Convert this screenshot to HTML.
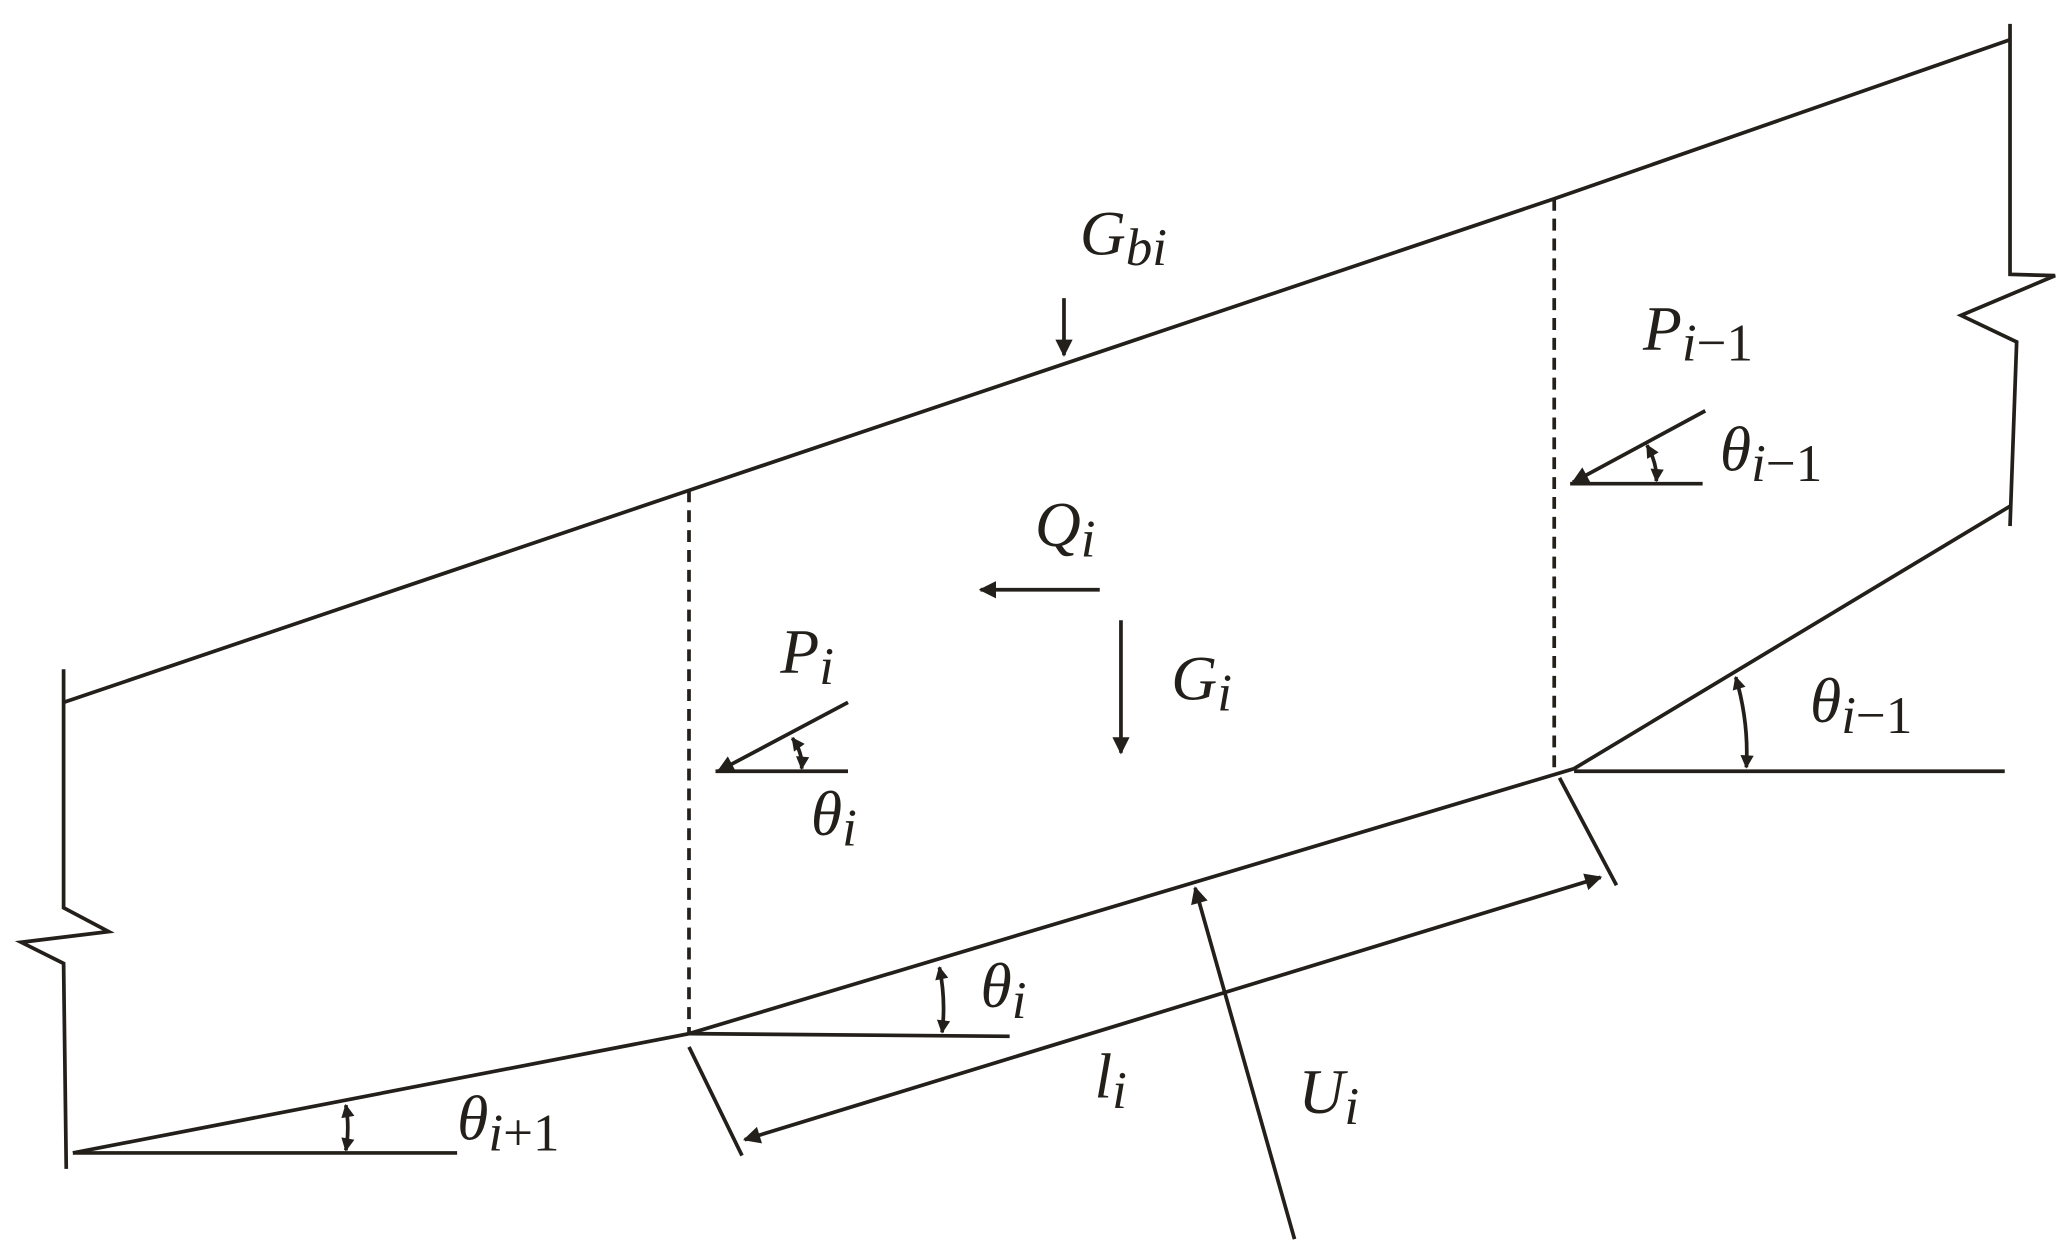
<!DOCTYPE html>
<html><head><style>html,body{margin:0;padding:0;background:#fff}svg{display:block}</style></head>
<body>
<svg width="2067" height="1251" viewBox="0 0 1560 944" preserveAspectRatio="none" xmlns="http://www.w3.org/2000/svg">
<defs>
<marker id="a" viewBox="0 0 10 10" refX="9" refY="5" markerWidth="11" markerHeight="10" orient="auto-start-reverse" markerUnits="userSpaceOnUse"><path d="M0,0 L10,5 L0,10 z" fill="#231f1a"/></marker>
<marker id="b" viewBox="0 0 10 10" refX="9" refY="5" markerWidth="20" markerHeight="13" orient="auto-start-reverse" markerUnits="userSpaceOnUse"><path d="M0,0 L10,5 L0,10 z" fill="#231f1a"/></marker>
</defs>
<g stroke="#231f1a" stroke-width="2.8" fill="none">
<path d="M48,530 L520,370 L1173,150 L1517,30"/>
<path d="M48,505 L48,685 L82,703 L16,711 L48,727 L50,882"/>
<path d="M1517,18 L1517,207 L1551,208 L1480,238 L1522,258 L1517,397"/>
<path d="M55,870 L520,780 L1188,580 L1517,382"/>
<path d="M520,370 L520,780 M1173,150 L1173,580" stroke-dasharray="9,6"/>
<path d="M55,870 L345,870 M520,780 L762,782 M1188,582 L1513,582 M540,582 L640,582 M1185,365 L1285,365"/>
<path d="M520,790 L560,872 M1177,587 L1220,668"/>
<path d="M803,225 L803,268" marker-end="url(#b)"/>
<path d="M830,445 L740,445" marker-end="url(#b)"/>
<path d="M846,468 L846,568" marker-end="url(#b)"/>
<path d="M640,530 L542,582" marker-end="url(#b)"/>
<path d="M1287,310 L1187,364" marker-end="url(#b)"/>
<path d="M562,860 L1208,662" marker-start="url(#b)" marker-end="url(#b)"/>
<path d="M977,935 L902,670" marker-end="url(#b)"/>
<path d="M598,557 Q606,568 605,580" marker-start="url(#a)" marker-end="url(#a)"/>
<path d="M1243,336 Q1251,350 1250,363" marker-start="url(#a)" marker-end="url(#a)"/>
<path d="M1310,511 Q1320,545 1318,579" marker-start="url(#a)" marker-end="url(#a)"/>
<path d="M709,730 Q714,755 711,779" marker-start="url(#a)" marker-end="url(#a)"/>
<path d="M261,834 Q264,851 261,868" marker-start="url(#a)" marker-end="url(#a)"/>
</g>
<g font-family="'Liberation Serif', serif" font-style="italic" fill="#231f1a" font-size="48">
<text x="815" y="192">G<tspan font-size="40" dy="8">bi</tspan></text>
<text x="781" y="412">Q<tspan font-size="40" dy="8">i</tspan></text>
<text x="884" y="528">G<tspan font-size="40" dy="8">i</tspan></text>
<text x="589" y="508">P<tspan font-size="40" dy="8">i</tspan></text>
<text x="612" y="630">θ<tspan font-size="40" dy="8">i</tspan></text>
<text x="1240" y="264">P<tspan font-size="40" dy="8">i<tspan font-style="normal">−1</tspan></tspan></text>
<text x="1298" y="355">θ<tspan font-size="40" dy="8">i<tspan font-style="normal">−1</tspan></tspan></text>
<text x="1366" y="545">θ<tspan font-size="40" dy="8">i<tspan font-style="normal">−1</tspan></tspan></text>
<text x="740" y="760">θ<tspan font-size="40" dy="8">i</tspan></text>
<text x="345" y="860">θ<tspan font-size="40" dy="8">i<tspan font-style="normal">+1</tspan></tspan></text>
<text x="826" y="828">l<tspan font-size="40" dy="8">i</tspan></text>
<text x="980" y="840">U<tspan font-size="40" dy="8">i</tspan></text>
</g>
</svg>
</body></html>
